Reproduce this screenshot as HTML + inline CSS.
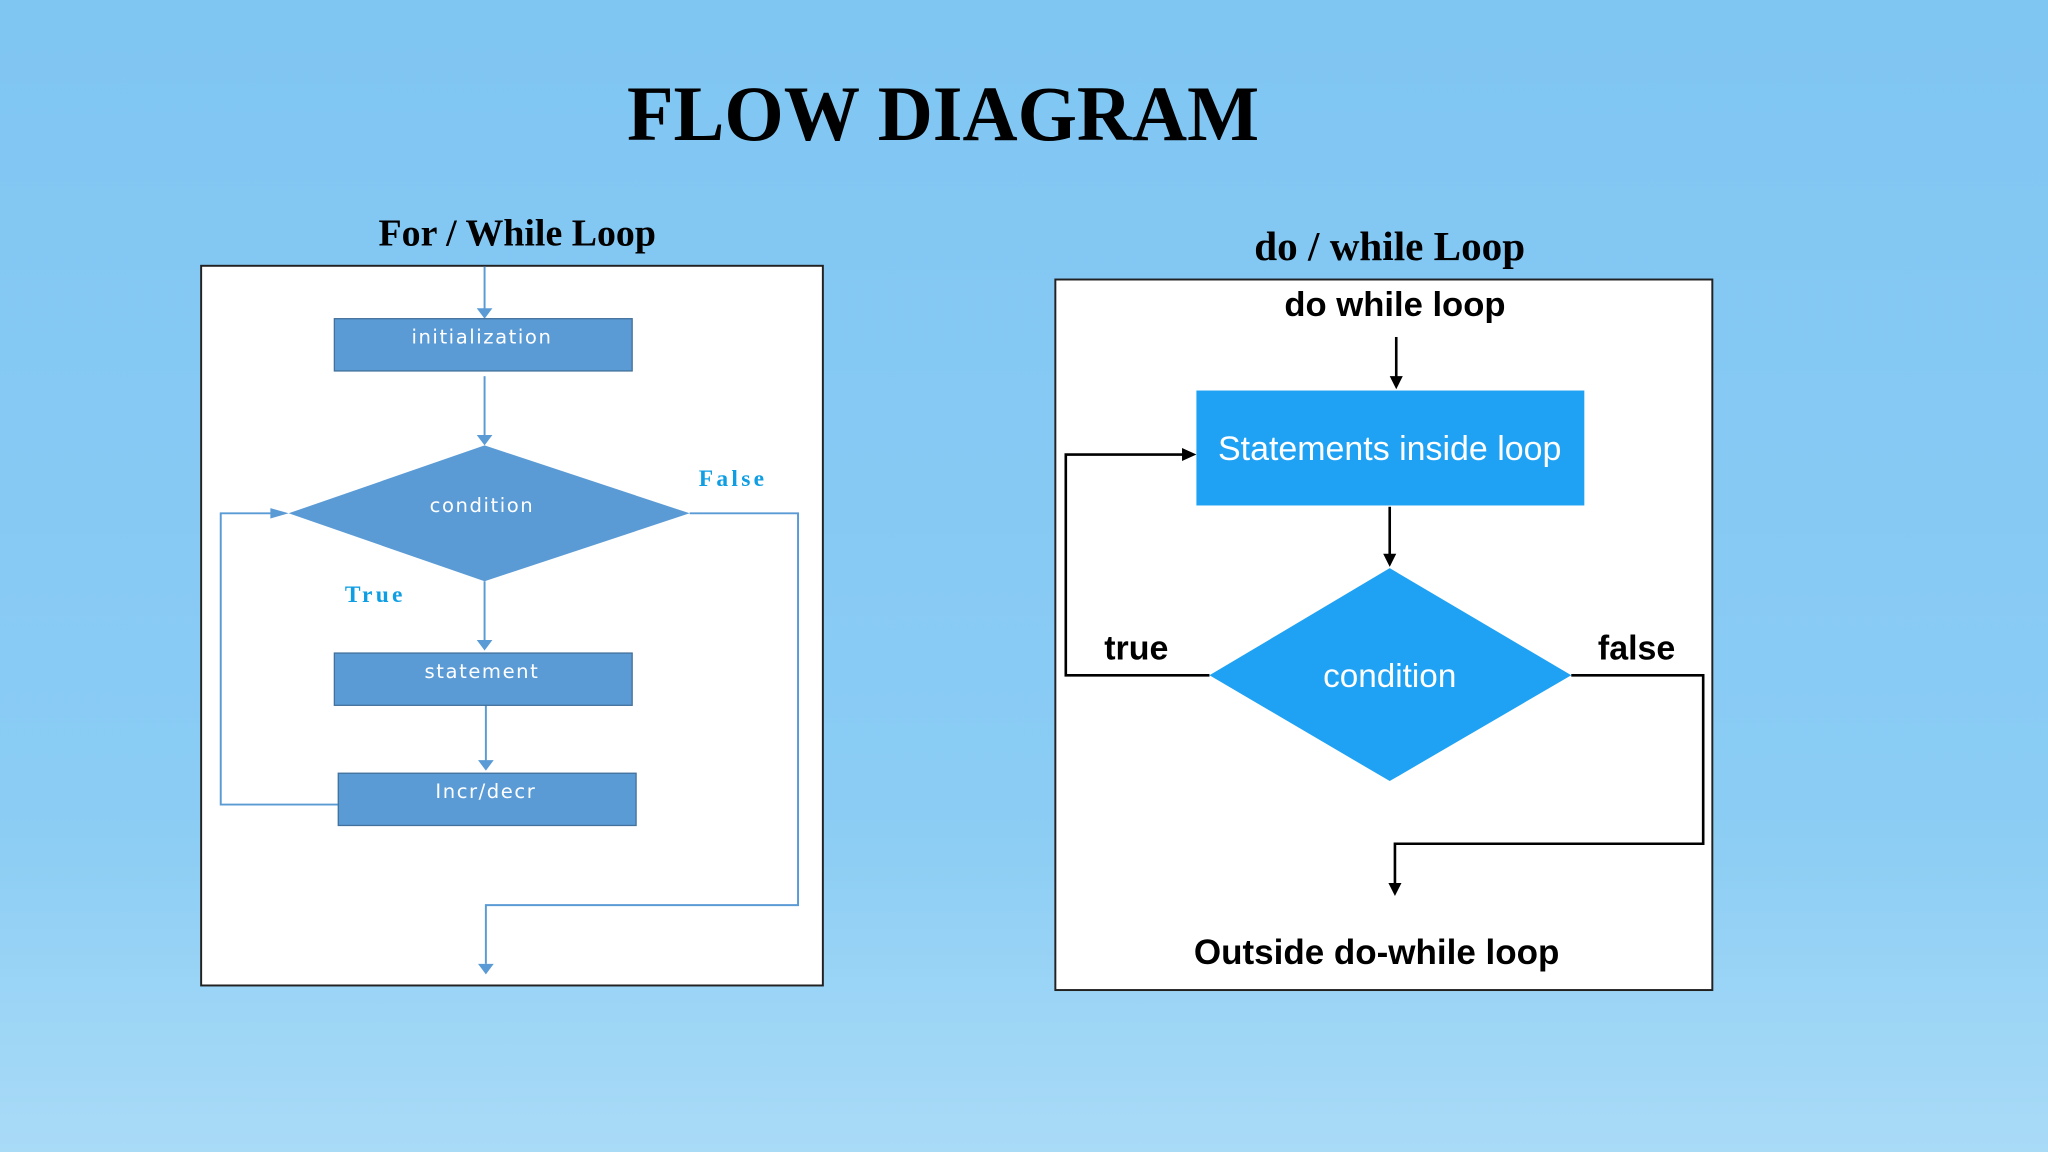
<!DOCTYPE html>
<html><head><meta charset="utf-8"><style>
html,body{margin:0;padding:0;width:2048px;height:1152px;overflow:hidden}
svg{display:block}
</style></head><body>
<svg width="2048" height="1152" viewBox="0 0 1568 882" xmlns="http://www.w3.org/2000/svg">
<defs>
<linearGradient id="bg" x1="0" y1="0" x2="0" y2="1">
<stop offset="0" stop-color="#80c6f3"/><stop offset="0.7" stop-color="#8accf4"/><stop offset="1" stop-color="#a9dbf7"/>
</linearGradient>
</defs>
<rect width="1568" height="882" fill="url(#bg)"/>
<text x="480" y="107" font-family="Liberation Serif, serif" font-weight="bold" font-size="60" textLength="484" lengthAdjust="spacingAndGlyphs">FLOW DIAGRAM</text>
<text x="396" y="188" text-anchor="middle" font-family="Liberation Serif, serif" font-weight="bold" font-size="29">For / While Loop</text>
<text x="1064" y="199" text-anchor="middle" font-family="Liberation Serif, serif" font-weight="bold" font-size="31.5">do / while Loop</text>

<!-- Left panel -->
<rect x="154" y="203.5" width="476" height="551" fill="#fff" stroke="#222" stroke-width="1.5"/>
<g stroke="#5b9bd5" stroke-width="1.5" fill="none">
<line x1="371" y1="204" x2="371" y2="238"/>
<line x1="371" y1="288" x2="371" y2="335"/>
<line x1="371" y1="445" x2="371" y2="492"/>
<line x1="372" y1="540" x2="372" y2="584"/>
<polyline points="259,616 169,616 169,393 213,393"/>
<polyline points="528,393 611,393 611,693 372,693 372,738"/>
</g>
<g fill="#5b9bd5">
<polygon points="365,236 377,236 371,244"/>
<polygon points="365,333 377,333 371,341"/>
<polygon points="365,490 377,490 371,498"/>
<polygon points="366,582 378,582 372,590"/>
<polygon points="207,389 207,397 221,393"/>
<polygon points="366,738 378,738 372,746"/>
<rect x="256" y="244" width="228" height="40" stroke="#41719c" stroke-width="1"/>
<polygon points="371,341 528,393 371,445 221,393"/>
<rect x="256" y="500" width="228" height="40" stroke="#41719c" stroke-width="1"/>
<rect x="259" y="592" width="228" height="40" stroke="#41719c" stroke-width="1"/>
</g>
<g fill="#fff" font-family="DejaVu Sans, Liberation Sans, sans-serif" font-size="15" letter-spacing="1.2" text-anchor="middle">
<text x="369" y="263">initialization</text>
<text x="369" y="392">condition</text>
<text x="369" y="519">statement</text>
<text x="372" y="611">Incr/decr</text>
</g>
<g fill="#0f9ee3" font-family="Liberation Serif, serif" font-weight="bold" font-size="18" letter-spacing="2.5">
<text x="535" y="372">False</text>
<text x="264" y="461">True</text>
</g>

<!-- Right panel -->
<rect x="808" y="214" width="503" height="544" fill="#fff" stroke="#222" stroke-width="1.5"/>
<g stroke="#000" stroke-width="2" fill="none">
<line x1="1069" y1="258" x2="1069" y2="290"/>
<line x1="1064" y1="388" x2="1064" y2="426"/>
<polyline points="926,517 816,517 816,348 906,348"/>
<polyline points="1203,517 1304,517 1304,646 1068,646 1068,678"/>
</g>
<g fill="#000">
<polygon points="1064,288 1074,288 1069,298"/>
<polygon points="1059,424 1069,424 1064,434"/>
<polygon points="905,343 905,353 916,348"/>
<polygon points="1063,676 1073,676 1068,686"/>
</g>
<rect x="916" y="299" width="297" height="88" fill="#1fa2f3"/>
<polygon points="1064,435 1203,517 1064,598 926,517" fill="#1fa2f3"/>
<g font-family="Liberation Sans, sans-serif" text-anchor="middle">
<text x="1068" y="242" font-size="26.5" font-weight="bold">do while loop</text>
<text x="1064" y="352" font-size="26" fill="#fff">Statements inside loop</text>
<text x="1064" y="526" font-size="25.5" fill="#fff">condition</text>
<text x="870" y="505" font-size="26" font-weight="bold">true</text>
<text x="1253" y="505" font-size="26" font-weight="bold">false</text>
<text x="1054" y="738" font-size="26.8" font-weight="bold">Outside do-while loop</text>
</g>
</svg>
</body></html>
